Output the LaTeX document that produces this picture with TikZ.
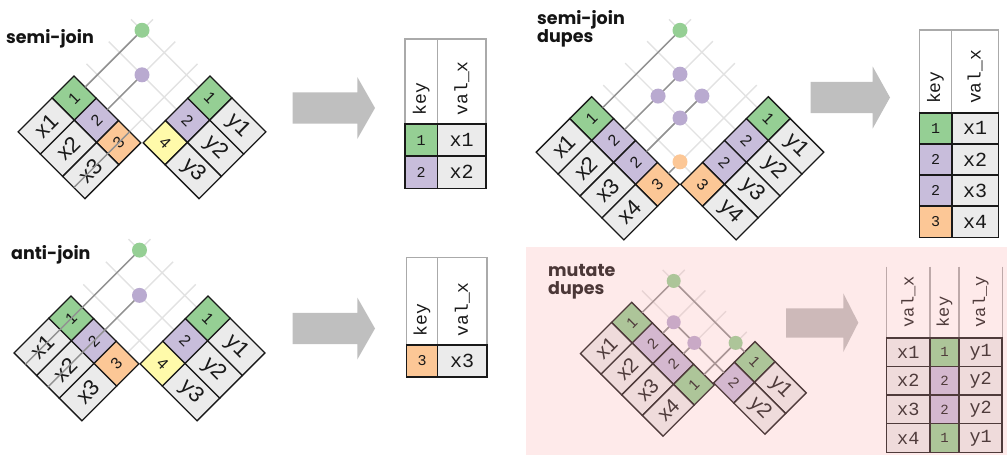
\documentclass[tikz,border=0pt]{standalone}
\usepackage{fontspec}
\setmainfont{Liberation Sans}
\newfontfamily\titlefam{Poppins}
\newfontfamily\monofam{Liberation Mono}
\usetikzlibrary{calc}
\pgfdeclarelayer{bgl}
\pgfdeclarelayer{gridl}
\pgfsetlayers{bgl,gridl,main}
\definecolor{cg}{RGB}{149,207,148}
\definecolor{cp}{RGB}{200,189,219}
\definecolor{cpd}{RGB}{185,170,208}
\definecolor{co}{RGB}{252,199,150}
\definecolor{cy}{RGB}{255,250,170}
\definecolor{cgr}{RGB}{235,235,235}
\definecolor{cbd}{RGB}{25,25,25}
\definecolor{cln}{RGB}{145,145,145}
\definecolor{cgrid}{RGB}{226,226,226}
\definecolor{carrow}{RGB}{191,191,191}
\definecolor{chead}{RGB}{170,170,170}
\definecolor{ctitle}{RGB}{20,20,20}
\definecolor{pinkov}{RGB}{250,167,167}
\colorlet{pinkbg}{white!76!pinkov}
\newcommand\keyfont{\fontsize{16}{18}\selectfont}
\newcommand\valfont{\fontsize{22}{24}\selectfont}
\newcommand\ttlfont{\titlefam\bfseries\fontsize{17.5}{18}\selectfont}
\newcommand\hdrfont{\monofam\fontsize{18}{20}\selectfont}
\newcommand\rvalfont{\monofam\fontsize{20}{22}\selectfont}
\newcommand\rkeyfont{\monofam\fontsize{15}{17}\selectfont}
\tikzset{
 cellL/.style={draw=cbd,line width=1.3pt,rotate=45,inner sep=0pt,text=cbd},
 cellR/.style={draw=cbd,line width=1.3pt,rotate=-45,inner sep=0pt,text=cbd},
 gridln/.style={draw=cgrid,line width=1.4pt},
 darkln/.style={draw=cln,line width=1.5pt},
 dotnode/.style={circle,inner sep=0pt,minimum size=15pt},
 hdr/.style={draw=chead,line width=1.3pt},
 htxt/.style={rotate=90,anchor=west,inner sep=0pt,font=\hdrfont,text=cbd},
 rcell/.style={draw=cbd,line width=1.6pt,inner sep=0pt,text=cbd},
 bigarrow/.style={fill=carrow},
 ttl/.style={anchor=base west,align=left,inner sep=0pt,font=\ttlfont,text=ctitle},
}
% left diamond table: #1 prefix, #2 top, #3 row h, #4 key w, #5 val w, #6 list
\newcommand\leftdia[6]{%
 \begin{scope}[shift={#2},x={(0.7071pt,-0.7071pt)},y={(-0.7071pt,-0.7071pt)}]
 \foreach \kk/\cc/\vv [count=\i] in {#6}{%
  \node[cellL,fill=\cc,minimum width=#4,minimum height=#3,font=\keyfont] (#1k\i) at ({(\i-0.5)*#3},{#4/2}) {\kk};
  \node[cellL,fill=cgr,minimum width=#5,minimum height=#3,font=\valfont] (#1v\i) at ({(\i-0.5)*#3},{#4+#5/2}) {\vv};
  \coordinate (#1e\i) at ({(\i-0.5)*#3},0);
  \coordinate (#1o\i) at ({(\i-0.5)*#3},{#4+#5});
 }
 \end{scope}}
\newcommand\rightdia[6]{%
 \begin{scope}[shift={#2},x={(-0.7071pt,-0.7071pt)},y={(0.7071pt,-0.7071pt)}]
 \foreach \kk/\cc/\vv [count=\i] in {#6}{%
  \node[cellR,fill=\cc,minimum width=#4,minimum height=#3,font=\keyfont] (#1k\i) at ({(\i-0.5)*#3},{#4/2}) {\kk};
  \node[cellR,fill=cgr,minimum width=#5,minimum height=#3,font=\valfont] (#1v\i) at ({(\i-0.5)*#3},{#4+#5/2}) {\vv};
  \coordinate (#1e\i) at ({(\i-0.5)*#3},0);
  \coordinate (#1o\i) at ({(\i-0.5)*#3},{#4+#5});
 }
 \end{scope}}
% crossing point of an up-right line from (A) and an up-left line from (B)
\newcommand\crosspt[3]{\path let \p1=(#2), \p2=(#3) in coordinate (#1) at ({(\x1-\y1+\x2+\y2)/2},{(\x2+\y2-\x1+\y1)/2});}
\newcommand\gridlines[4]{%
 \begin{pgfonlayer}{gridl}
 \foreach \i in {1,...,#2}{%
  \crosspt{#1g\i}{#1e\i}{#3e1}
  \draw[gridln] (#1e\i) -- ($(#1g\i)+(11,-11)$);
 }
 \foreach \i in {1,...,#4}{%
  \crosspt{#3g\i}{#1e1}{#3e\i}
  \draw[gridln] (#3e\i) -- ($(#3g\i)+(-11,-11)$);
 }
 \end{pgfonlayer}}
\newcommand\dotpt[5]{\crosspt{#1}{#2e#3}{#4e#5}}
\begin{document}
\begin{tikzpicture}[x=1pt,y=-1pt]
\useasboundingbox (0,0) rectangle (1007,455);

% ===== semi-join =====
\leftdia{SL}{(74,76)}{31.5}{31}{48}{1/cg/x1,2/cp/x2,3/co/x3}
\rightdia{SR}{(210,76)}{31.5}{31}{48}{1/cg/y1,2/cp/y2,4/cy/y3}
\gridlines{SL}{3}{SR}{3}
\dotpt{Sd11}{SL}{1}{SR}{1}
\dotpt{Sd22}{SL}{2}{SR}{2}
\draw[darkln] (SLo3) -- (SLe3);
\draw[darkln] (SLe1) -- (Sd11);
\draw[darkln] (SLe2) -- (Sd22);
\node[dotnode,fill=cg] (Sn11) at (Sd11) {};
\node[dotnode,fill=cpd] (Sn22) at (Sd22) {};
\node[ttl] (St) at (6,43) {semi-join};

\fill[bigarrow] (292.7,92.3) -- (357.3,92.3) -- (357.3,77) -- (375,108) -- (357.3,139) -- (357.3,123.7) -- (292.7,123.7) -- cycle;

\draw[hdr] (405,124) -- (405,39) -- (486,39) -- (486,124);
\draw[hdr] (437.3,39) -- (437.3,124);
\node[htxt] (Shk) at (421.2,115.5) {key};
\node[htxt] (Shv) at (461.7,115.5) {val\_x};
\node[rcell,fill=cg,minimum width=32.3,minimum height=32.2,font=\rkeyfont] (Sr1k) at (421.2,140.1) {1};
\node[rcell,fill=cgr,minimum width=48.7,minimum height=32.2,font=\rvalfont] (Sr1v) at (461.7,140.1) {x1};
\node[rcell,fill=cp,minimum width=32.3,minimum height=32.2,font=\rkeyfont] (Sr2k) at (421.2,172.3) {2};
\node[rcell,fill=cgr,minimum width=48.7,minimum height=32.2,font=\rvalfont] (Sr2v) at (461.7,172.3) {x2};

% ===== anti-join =====
\leftdia{AL}{(71,296)}{32}{31.5}{49}{1/cg/x1,2/cp/x2,3/co/x3}
\rightdia{AR}{(208,296)}{32}{31.5}{49}{1/cg/y1,2/cp/y2,4/cy/y3}
\gridlines{AL}{3}{AR}{3}
\dotpt{Ad11}{AL}{1}{AR}{1}
\dotpt{Ad22}{AL}{2}{AR}{2}
\draw[darkln] (ALo1) -- (Ad11);
\draw[darkln] (ALo2) -- (Ad22);
\node[dotnode,fill=cg] (An11) at (Ad11) {};
\node[dotnode,fill=cpd] (An22) at (Ad22) {};
\node[ttl] (At) at (11,259) {anti-join};

\fill[bigarrow] (292.7,312.8) -- (357.3,312.8) -- (357.3,297.5) -- (375,328.5) -- (357.3,359.5) -- (357.3,344.2) -- (292.7,344.2) -- cycle;

\draw[hdr] (406.5,345) -- (406.5,257.7) -- (487,257.7) -- (487,345);
\draw[hdr] (437.4,257.7) -- (437.4,345);
\node[htxt] (Ahk) at (422,336.5) {key};
\node[htxt] (Ahv) at (462.2,336.5) {val\_x};
\node[rcell,fill=co,minimum width=30.9,minimum height=32,font=\rkeyfont] (Ar1k) at (422,361) {3};
\node[rcell,fill=cgr,minimum width=49.6,minimum height=32,font=\rvalfont] (Ar1v) at (462.2,361) {x3};

% ===== semi-join dupes =====
\leftdia{DL}{(591.7,96.7)}{31}{31}{47.5}{1/cg/x1,2/cp/x2,2/cp/x3,3/co/x4}
\rightdia{DR}{(768.3,96.7)}{31}{31}{47.5}{1/cg/y1,2/cp/y2,2/cp/y3,3/co/y4}
\gridlines{DL}{4}{DR}{4}
\dotpt{Dd11}{DL}{1}{DR}{1}
\dotpt{Dd22}{DL}{2}{DR}{2}
\dotpt{Dd23}{DL}{2}{DR}{3}
\dotpt{Dd32}{DL}{3}{DR}{2}
\dotpt{Dd33}{DL}{3}{DR}{3}
\dotpt{Dd44}{DL}{4}{DR}{4}
\draw[darkln] (DLe1) -- (Dd11);
\draw[darkln] (DLe2) -- (Dd22);
\draw[darkln] (DLe3) -- (Dd32);
\draw[darkln] (DLe4) -- (Dd44);
\node[dotnode,fill=cg] (Dn11) at (Dd11) {};
\node[dotnode,fill=cpd] (Dn22) at (Dd22) {};
\node[dotnode,fill=cpd] (Dn23) at (Dd23) {};
\node[dotnode,fill=cpd] (Dn32) at (Dd32) {};
\node[dotnode,fill=cpd] (Dn33) at (Dd33) {};
\node[dotnode,fill=co] (Dn44) at (Dd44) {};
\node[ttl] (Dt) at (537,42) {semi-join\\dupes};

\fill[bigarrow] (810.7,81.8) -- (872.7,81.8) -- (872.7,66.5) -- (890,97.5) -- (872.7,128.5) -- (872.7,113.2) -- (810.7,113.2) -- cycle;

\draw[hdr] (919.3,112.7) -- (919.3,30) -- (998.3,30) -- (998.3,112.7);
\draw[hdr] (951.7,30) -- (951.7,112.7);
\node[htxt] (Dhk) at (935.5,104) {key};
\node[htxt] (Dhv) at (975,104) {val\_x};
\foreach \kk/\cc/\vv [count=\i] in {1/cg/x1,2/cp/x2,2/cp/x3,3/co/x4}{%
 \node[rcell,fill=\cc,minimum width=32.4,minimum height=31.15,font=\rkeyfont] (Dr\i k) at (935.5,{112.7+31.15*(\i-0.5)}) {\kk};
 \node[rcell,fill=cgr,minimum width=46.6,minimum height=31.15,font=\rvalfont] (Dr\i v) at (975,{112.7+31.15*(\i-0.5)}) {\vv};
}

% ===== mutate dupes =====
\begin{scope}
\colorlet{cg}{cg!76!pinkov}
\colorlet{cp}{cp!76!pinkov}
\colorlet{cpd}{cpd!76!pinkov}
\colorlet{cgr}{cgr!76!pinkov}
\colorlet{cbd}{cbd!76!pinkov}
\colorlet{cln}{cln!76!pinkov}
\colorlet{cgrid}{cgrid!76!pinkov}
\colorlet{carrow}{carrow!76!pinkov}
\colorlet{chead}{chead!76!pinkov}
\colorlet{ctitle}{ctitle!76!pinkov}
\renewcommand\valfont{\fontsize{20.5}{22}\selectfont}
\renewcommand\keyfont{\fontsize{15}{17}\selectfont}
\renewcommand\hdrfont{\monofam\fontsize{17}{19}\selectfont}
\renewcommand\rvalfont{\monofam\fontsize{18.5}{20}\selectfont}
\renewcommand\rkeyfont{\monofam\fontsize{14}{16}\selectfont}
\begin{pgfonlayer}{bgl}
\fill[pinkbg] (526,247) rectangle (1007,455);
\end{pgfonlayer}
\leftdia{ML}{(631.7,302.3)}{29.2}{28.5}{44}{1/cg/x1,2/cp/x2,2/cp/x3,1/cg/x4}
\rightdia{MR}{(755,341.6)}{29.2}{28.5}{44}{1/cg/y1,2/cp/y2}
\gridlines{ML}{4}{MR}{2}
\dotpt{Md11}{ML}{1}{MR}{1}
\dotpt{Md22}{ML}{2}{MR}{2}
\dotpt{Md32}{ML}{3}{MR}{2}
\dotpt{Md41}{ML}{4}{MR}{1}
\draw[darkln] (MLe1) -- (Md11);
\draw[darkln] (MLe2) -- (Md22);
\draw[darkln] (MLe3) -- (Md32);
\draw[darkln] (MLe4) -- (Md41);
\draw[darkln] (MRe1) -- (Md11);
\draw[darkln] (MRe2) -- (Md22);
\node[dotnode,fill=cg,minimum size=14pt] (Mn11) at (Md11) {};
\node[dotnode,fill=cpd,minimum size=14pt] (Mn22) at (Md22) {};
\node[dotnode,fill=cpd,minimum size=14pt] (Mn32) at (Md32) {};
\node[dotnode,fill=cg,minimum size=14pt] (Mn41) at (Md41) {};
\node[ttl] (Mt) at (548,294) {mutate\\dupes};

\fill[bigarrow] (786,308.3) -- (843.3,308.3) -- (843.3,293.3) -- (858.3,322.7) -- (843.3,352) -- (843.3,337.7) -- (786,337.7) -- cycle;

\draw[hdr] (886.7,266.7) -- (886.7,337.7);
\draw[hdr] (930,266.7) -- (930,337.7);
\draw[hdr] (959,266.7) -- (959,337.7);
\draw[hdr] (1002.3,266.7) -- (1002.3,337.7);
\node[htxt] (Mhx) at (908.3,327.5) {val\_x};
\node[htxt] (Mhk) at (944.5,327.5) {key};
\node[htxt] (Mhy) at (980.6,327.5) {val\_y};
\foreach \aa/\kk/\cc/\bb [count=\i] in {x1/1/cg/y1,x2/2/cp/y2,x3/2/cp/y2,x4/1/cg/y1}{%
 \node[rcell,fill=cgr,minimum width=43.3,minimum height=28.65,font=\rvalfont] (Mr\i x) at (908.3,{337.7+28.65*(\i-0.5)}) {\aa};
 \node[rcell,fill=\cc,minimum width=29,minimum height=28.65,font=\rkeyfont] (Mr\i k) at (944.5,{337.7+28.65*(\i-0.5)}) {\kk};
 \node[rcell,fill=cgr,minimum width=43.3,minimum height=28.65,font=\rvalfont] (Mr\i y) at (980.6,{337.7+28.65*(\i-0.5)}) {\bb};
}
\end{scope}
\end{tikzpicture}
\end{document}
